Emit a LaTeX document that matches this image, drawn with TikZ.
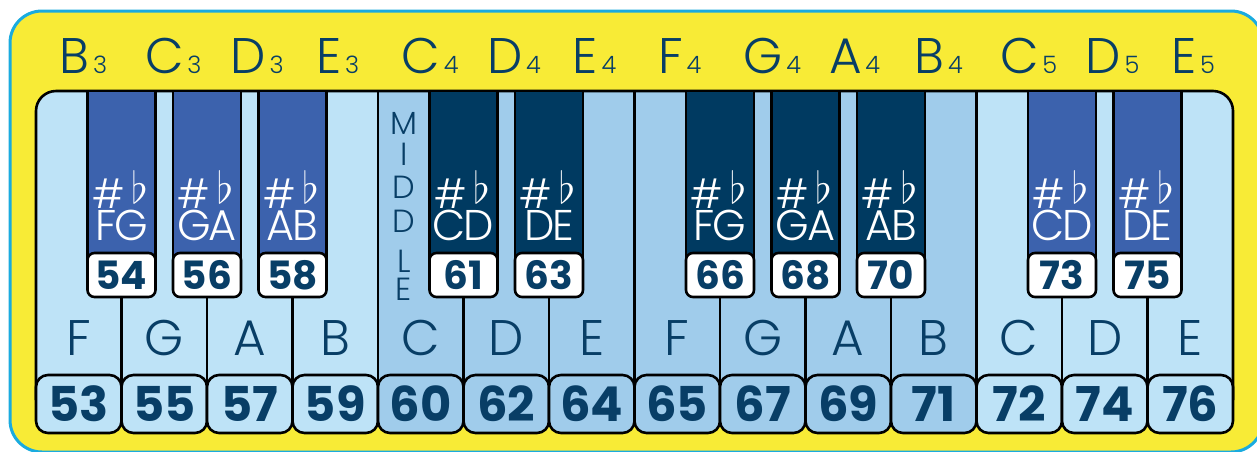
\documentclass[tikz,border=0pt]{standalone}
\usepackage{fix-cm}
\usepackage{fontspec}
\newfontfamily\thinf{Poppins Light}
\newfontfamily\boldf{Poppins}
\definecolor{yel}{HTML}{F8EB36}
\definecolor{cyanb}{HTML}{1AABDF}
\definecolor{lightk}{HTML}{BEE3F7}
\definecolor{midk}{HTML}{A0CCEB}
\definecolor{outb}{HTML}{3C62AD}
\definecolor{inb}{HTML}{003A61}
\definecolor{navy}{HTML}{083E66}
\tikzset{
  kline/.style={line width=2.6pt, draw=black},
  wbox/.style={draw=black, line width=2.6pt, rounded corners=12pt, minimum width=85.5pt, minimum height=58pt, inner sep=0pt, text=navy, font=\boldf\bfseries\fontsize{48}{48}\selectfont},
  bbox/.style={draw=black, fill=white, line width=2.6pt, rounded corners=7pt, minimum width=68pt, minimum height=44pt, inner sep=0pt, text=navy, font=\boldf\bfseries\fontsize{39}{39}\selectfont},
  toplet/.style={anchor=base west, inner sep=0pt, text=navy, font=\thinf\fontsize{50}{50}\selectfont},
  topdig/.style={anchor=base west, inner sep=0pt, text=navy, font=\thinf\fontsize{24}{24}\selectfont},
  keylet/.style={anchor=base, inner sep=0pt, text=navy, font=\thinf\fontsize{50}{50}\selectfont},
  blet/.style={anchor=base, inner sep=0pt, text=white, font=\thinf\fontsize{43}{43}\selectfont},
  sharpsign/.style={anchor=base, inner sep=0pt, text=white, font=\thinf\fontsize{40}{40}\selectfont},
  flatsign/.style={anchor=base, inner sep=0pt, text=white, font=\fontsize{44}{44}\selectfont},
  midlet/.style={anchor=center, inner sep=0pt, text=navy, font=\thinf\fontsize{32}{32}\selectfont}
}
\begin{document}
\begin{tikzpicture}[x=1pt,y=-1pt,line join=round]
\useasboundingbox (0,0) rectangle (1257,451);
\fill[white] (0,0) rectangle (1257,451);
\draw[fill=yel, draw=cyanb, line width=3pt, rounded corners=32pt] (10,11) rectangle (1263,452);
% white key fills
\begin{scope}
\clip (36,404) -- (36,111) arc[start angle=180, end angle=270, radius=20] -- (1213,91) arc[start angle=270, end angle=360, radius=20] -- (1233,404) -- cycle;
\foreach \i/\c in {0/lightk,1/lightk,2/lightk,3/lightk,4/midk,5/midk,6/midk,7/midk,8/midk,9/midk,10/midk,11/lightk,12/lightk,13/lightk}
  \fill[\c] ({36+85.5*\i},91) rectangle ({36+85.5*(\i+1)},404);
\end{scope}
% separators
\foreach \i in {1,2,3,5,6,8,9,10,12,13}
  \draw[kline] ({36+85.5*\i},297) -- ({36+85.5*\i},385);
\foreach \i in {4,7,11}
  \draw[kline] ({36+85.5*\i},91) -- ({36+85.5*\i},385);
% keyboard outline
\draw[kline] (36,400) -- (36,111) arc[start angle=180, end angle=270, radius=20] -- (1213,91) arc[start angle=270, end angle=360, radius=20] -- (1233,400);
% black keys
\foreach \b/\n/\c/\A/\B in {1/54/outb/F/G, 2/56/outb/G/A, 3/58/outb/A/B, 5/61/inb/C/D, 6/63/inb/D/E, 8/66/inb/F/G, 9/68/inb/G/A, 10/70/inb/A/B, 12/73/outb/C/D, 13/75/outb/D/E}{
  \pgfmathsetmacro\xc{36+85.5*\b}
  \filldraw[fill=\c, kline] (\xc-34,91) rectangle (\xc+34,275);
  \node[bbox] (b\n) at (\xc,275) {\n};
  \node[blet] (bl\n) at (\xc,240) {\A\kern-2pt\B};
  \node[sharpsign] (bs\n) at (\xc-13,208) {\#};
  \node[flatsign] (bf\n) at (\xc+18,203) {$\flat$};
}
% white key boxes and labels
\foreach \i/\c/\L/\n/\T/\d in {0/lightk/F/53/B/3, 1/lightk/G/55/C/3, 2/lightk/A/57/D/3, 3/lightk/B/59/E/3, 4/midk/C/60/C/4, 5/midk/D/62/D/4, 6/midk/E/64/E/4, 7/midk/F/65/F/4, 8/midk/G/67/G/4, 9/midk/A/69/A/4, 10/midk/B/71/B/4, 11/lightk/C/72/C/5, 12/lightk/D/74/D/5, 13/lightk/E/76/E/5}{
  \pgfmathsetmacro\xc{36+85.5*\i+42.75}
  \node[wbox, fill=\c] (w\n) at (\xc,404) {\n};
  \node[keylet] (wl\n) at (\xc,355) {\L};
  \node[toplet] (t\i) at (\xc-19,73) {\T};
  \node[topdig, xshift=3pt] (td\i) at (t\i.base east) {\d};
}
% MIDDLE
\foreach \ch/\y [count=\k] in {M/123, I/154, D/187, D/221, L/261, E/289}
  \node[midlet] (mid\k) at (404,\y) {\ch};
\end{tikzpicture}
\end{document}
